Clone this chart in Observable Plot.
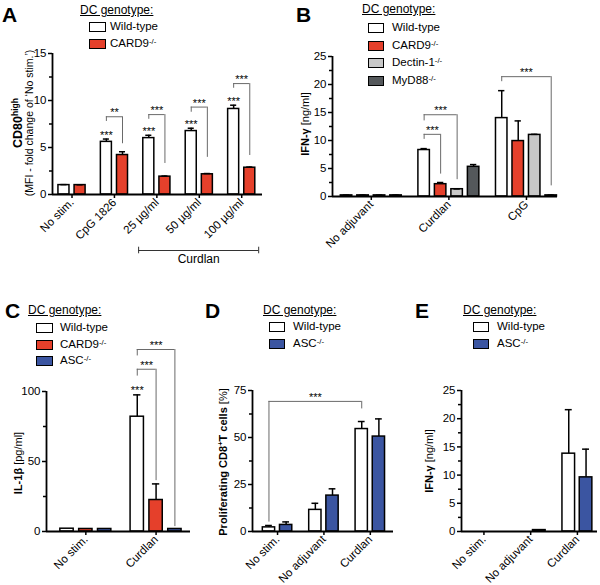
<!DOCTYPE html>
<html><head><meta charset="utf-8">
<script src="https://cdn.jsdelivr.net/npm/d3@7"></script>
<script src="https://cdn.jsdelivr.net/npm/@observablehq/plot@0.6"></script>
<style>
body{margin:0;background:#fff;font-family:"Liberation Sans",Arial,sans-serif;color:#000;}
#fig{position:relative;width:600px;height:585px;overflow:hidden;background:#fff;}
.pl{position:absolute;}
.letter{position:absolute;font-weight:bold;font-size:21px;line-height:1;}
.lgt{position:absolute;font-size:12px;text-decoration:underline;line-height:1;white-space:nowrap;transform:translateY(-50%);}
.sw{position:absolute;box-sizing:border-box;border:1.5px solid #000;transform:translateY(-50%);}
.lgi{position:absolute;font-size:11.5px;line-height:1;white-space:nowrap;transform:translateY(-50%);}
.yl{position:absolute;white-space:nowrap;transform:translate(-50%,-50%) rotate(-90deg);font-size:11px;line-height:1;}
sup{font-size:0.68em;vertical-align:0.45em;line-height:0;}
</style></head>
<body><div id="fig"></div>
<script>
// ---------- Genotypes / colours ----------
const genotypeNames = ["Wild-type", "CARD9-/-", "Dectin-1-/-", "MyD88-/-", "ASC-/-"];
const genotypeFills = ["#ffffff", "#e5402b", "#c8c8c8", "#54585b", "#3b55a1"];

// ---------- Panel A: CD80high fold change ----------
const aGroups = ["No stim.", "CpG 1826", "25 µg/ml", "50 µg/ml", "100 µg/ml"];
const aGenotypes = ["Wild-type", "CARD9-/-"];
const aWildType = [1.0, 5.6, 6.0, 6.75, 9.1];
const aWildTypeErr = [0.05, 0.3, 0.3, 0.3, 0.4];
const aCARD9 = [1.0, 4.2, 1.9, 2.15, 2.85];
const aCARD9Err = [0.03, 0.35, 0.06, 0.08, 0.07];
const aStarsWildType = ["", "***", "***", "***", "***"];
const aBrackets = [
  {fromGroup: "CpG 1826", fromGenotype: "Wild-type", toGroup: "CpG 1826", toGenotype: "CARD9-/-", top: 8.27, left: 7.77, right: 5.4, label: "**"},
  {fromGroup: "25 µg/ml", fromGenotype: "Wild-type", toGroup: "25 µg/ml", toGenotype: "CARD9-/-", top: 8.5, left: 8.0, right: 3.3, label: "***"},
  {fromGroup: "50 µg/ml", fromGenotype: "Wild-type", toGroup: "50 µg/ml", toGenotype: "CARD9-/-", top: 9.3, left: 8.75, right: 3.95, label: "***"},
  {fromGroup: "100 µg/ml", fromGenotype: "Wild-type", toGroup: "100 µg/ml", toGenotype: "CARD9-/-", top: 11.8, left: 11.3, right: 4.15, label: "***"}
];
const aSpan = {label: "Curdlan", from: "25 µg/ml", to: "100 µg/ml"};

// ---------- Panel B: IFN-γ ----------
const bGroups = ["No adjuvant", "Curdlan", "CpG"];
const bGenotypes = ["Wild-type", "CARD9-/-", "Dectin-1-/-", "MyD88-/-"];
const bWildType = [0.2, 8.3, 14.0];
const bWildTypeErr = [0.05, 0.25, 4.9];
const bCARD9 = [0.2, 2.2, 9.9];
const bCARD9Err = [0.05, 0.3, 3.6];
const bDectin1 = [0.2, 1.3, 11.0];
const bDectin1Err = [0.05, 0.05, 0.1];
const bMyD88 = [0.2, 5.3, 0.2];
const bMyD88Err = [0.05, 0.4, 0.05];
const bBrackets = [
  {fromGroup: "Curdlan", fromGenotype: "Wild-type", toGroup: "Curdlan", toGenotype: "CARD9-/-", top: 11.1, left: 10.2, right: 4.0, label: "***"},
  {fromGroup: "Curdlan", fromGenotype: "Wild-type", toGroup: "Curdlan", toGenotype: "Dectin-1-/-", top: 14.6, left: 13.5, right: 3.0, label: "***"},
  {fromGroup: "CpG", fromGenotype: "Wild-type", toGroup: "CpG", toGenotype: "MyD88-/-", top: 21.4, left: 20.5, right: 1.9, label: "***"}
];

// ---------- Panel C: IL-1β ----------
const cGroups = ["No stim.", "Curdlan"];
const cGenotypes = ["Wild-type", "CARD9-/-", "ASC-/-"];
const cWildType = [2.0, 82.0];
const cWildTypeErr = [0, 15.6];
const cCARD9 = [1.8, 22.5];
const cCARD9Err = [0, 11.5];
const cASC = [1.8, 1.8];
const cASCErr = [0, 0];
const cStarsWildType = ["", "***"];
const cBrackets = [
  {fromGroup: "Curdlan", fromGenotype: "Wild-type", toGroup: "Curdlan", toGenotype: "CARD9-/-", top: 115.9, left: 111, right: 36.3, label: "***"},
  {fromGroup: "Curdlan", fromGenotype: "Wild-type", toGroup: "Curdlan", toGenotype: "ASC-/-", top: 130, left: 125.4, right: 3.5, label: "***"}
];

// ---------- Panel D: proliferating CD8+ T cells ----------
const dGroups = ["No stim.", "No adjuvant", "Curdlan"];
const dGenotypes = ["Wild-type", "ASC-/-"];
const dWildType = [2.2, 11.5, 54.5];
const dWildTypeErr = [1.0, 3.5, 4.0];
const dASC = [3.5, 19.1, 50.5];
const dASCErr = [1.6, 3.6, 9.4];
const dBrackets = [
  {fromGroup: "No stim.", fromGenotype: "Wild-type", toGroup: "Curdlan", toGenotype: "Wild-type", top: 69.2, left: 5.0, right: 65.2, label: "***"}
];

// ---------- Panel E: IFN-γ ----------
const eGroups = ["No stim.", "No adjuvant", "Curdlan"];
const eGenotypes = ["Wild-type", "ASC-/-"];
const eWildType = [0, 0, 13.8];
const eWildTypeErr = [0, 0, 7.8];
const eASC = [0, 0.25, 9.6];
const eASCErr = [0, 0, 5.0];

// ---------- helpers ----------
const fig = document.getElementById("fig");
const fmtName = n => n.replace(/-\/-$/, "<sup>-/-</sup>");

function addDiv(cls, x, y, html, extra) {
  const d = document.createElement("div");
  d.className = cls;
  d.style.left = x + "px";
  d.style.top = y + "px";
  d.innerHTML = html;
  if (extra) Object.assign(d.style, extra);
  fig.appendChild(d);
  return d;
}

function legend(genotypes, L) {
  addDiv("lgt", L.titleX, L.titleY, "DC genotype:");
  genotypes.forEach((g, i) => {
    const y = L.rowY + i * L.rowStep;
    addDiv("sw", L.swX, y, "", {width: L.swW + "px", height: L.swH + "px", background: genotypeFills[genotypeNames.indexOf(g)]});
    addDiv("lgi", L.textX, y, fmtName(g));
  });
}

function panel(P) {
  const {groups, genotypes, means, errs, stars, brackets, L} = P;
  const K = genotypes.length;
  const xc = (g, k) => g + (k - (K - 1) / 2) * L.spacing;
  const rows = [];
  groups.forEach((grp, i) => genotypes.forEach((gt, k) => {
    rows.push({group: grp, genotype: gt, i, k, v: means[k][i], e: errs[k][i],
      star: stars && k === 0 ? stars[i] : "", c: xc(i, k)});
  }));
  const w = L.barW, cw = L.barW * 0.55;
  const bars = rows.filter(d => d.v > 0);
  const errRows = rows.filter(d => d.e > 0);
  const br = (brackets || []).map(b => ({...b,
    xa: xc(groups.indexOf(b.fromGroup), genotypes.indexOf(b.fromGenotype)),
    xb: xc(groups.indexOf(b.toGroup), genotypes.indexOf(b.toGenotype))}));
  const marks = [
    Plot.rect(bars, {x1: d => d.c - w / 2, x2: d => d.c + w / 2, y1: 0, y2: "v", fill: "genotype", stroke: "#000", strokeWidth: 1.5}),
    Plot.ruleX(errRows, {x: "c", y1: "v", y2: d => d.v + d.e, stroke: "#000", strokeWidth: 1.5}),
    Plot.ruleY(errRows, {y: d => d.v + d.e, x1: d => d.c - cw / 2, x2: d => d.c + cw / 2, stroke: "#000", strokeWidth: 1.5}),
    Plot.text(rows.filter(d => d.star), {x: "c", y: d => d.v + d.e, text: "star", dy: -4, fontSize: 11}),
    Plot.ruleY(br, {y: "top", x1: "xa", x2: "xb", stroke: "#6a6a6a", strokeWidth: 1}),
    Plot.ruleX(br, {x: "xa", y1: "left", y2: "top", stroke: "#6a6a6a", strokeWidth: 1}),
    Plot.ruleX(br, {x: "xb", y1: "right", y2: "top", stroke: "#6a6a6a", strokeWidth: 1}),
    Plot.text(br, {x: d => (d.xa + d.xb) / 2, y: "top", text: "label", dy: -4, fontSize: 11}),
    Plot.ruleY([0], {stroke: "#000", strokeWidth: 1.8}),
    Plot.ruleX([L.xDomain[0]], {y1: 0, y2: L.yMax, stroke: "#000", strokeWidth: 1.8}),
    Plot.axisY({ticks: L.major, tickSize: 4, tickPadding: 2, strokeWidth: 1.5, fontSize: 11.5, fill: "#000", label: null}),
    Plot.axisY({ticks: L.minor, tickSize: 3, tickFormat: () => "", strokeWidth: 1.5, label: null}),
    Plot.axisX({ticks: groups.map((_, i) => i), tickFormat: i => groups[i], tickRotate: -45, tickSize: 4, tickPadding: 2, strokeWidth: 1.5, fontSize: 11.5, label: null})
  ];
  if (P.extra) marks.push(...P.extra(xc));
  const svg = Plot.plot({
    width: L.width, height: L.height,
    marginLeft: L.mL, marginRight: L.mR, marginTop: L.mT, marginBottom: L.mB,
    x: {type: "linear", domain: L.xDomain},
    y: {domain: [0, L.yMax]},
    color: {domain: genotypeNames, range: genotypeFills},
    style: {fontFamily: "Liberation Sans, Arial, sans-serif", fontSize: "11px", color: "#000", background: "transparent", overflow: "visible"},
    marks
  });
  const holder = addDiv("pl", L.left, L.top, "");
  holder.appendChild(svg);
}

// ---------- Panel A ----------
panel({
  groups: aGroups, genotypes: aGenotypes,
  means: [aWildType, aCARD9], errs: [aWildTypeErr, aCARD9Err],
  stars: aStarsWildType, brackets: aBrackets,
  L: {left: 0, top: 0, width: 300, height: 290, mL: 52, mR: 38, mT: 53, mB: 96,
      xDomain: [-0.46, 4.49], yMax: 15, major: [0, 5, 10, 15], minor: [2.5, 7.5, 12.5], barW: 0.26, spacing: 0.38},
  extra: () => {
    const x1 = aGroups.indexOf(aSpan.from) - 0.43, x2 = aGroups.indexOf(aSpan.to) + 0.4;
    return [
      Plot.ruleY([aSpan], {y: 0, x1: () => x1, x2: () => x2, dy: 56, stroke: "#333", strokeWidth: 1}),
      Plot.ruleX([x1, x2], {x: d => d, y1: 0.35, y2: -0.35, dy: 56, stroke: "#333", strokeWidth: 1}),
      Plot.text([aSpan], {x: () => (x1 + x2) / 2, y: 0, dy: 65, text: "label", fontSize: 12})
    ];
  }
});
addDiv("letter", 2, 4, "A");
legend(aGenotypes, {titleX: 80, titleY: 10, swX: 89, swW: 17, swH: 10, rowY: 27, rowStep: 17, textX: 110});
addDiv("yl", 18, 123, "<b style='font-size:12.5px'>CD80<sup>high</sup></b>");
addDiv("yl", 29, 123, "(MFI - fold change of ‘No stim.’)", {fontSize: "10.5px"});

// ---------- Panel B ----------
panel({
  groups: bGroups, genotypes: bGenotypes,
  means: [bWildType, bCARD9, bDectin1, bMyD88], errs: [bWildTypeErr, bCARD9Err, bDectin1Err, bMyD88Err],
  brackets: bBrackets,
  L: {left: 300, top: 0, width: 300, height: 290, mL: 32, mR: 43, mT: 56, mB: 94,
      xDomain: [-0.5, 2.4], yMax: 25, major: [0, 5, 10, 15, 20, 25], minor: [2.5, 7.5, 12.5, 17.5, 22.5], barW: 0.148, spacing: 0.2126}
});
addDiv("letter", 296, 4, "B");
legend(bGenotypes, {titleX: 362, titleY: 9, swX: 368, swW: 16, swH: 10, rowY: 28, rowStep: 17.6, textX: 392});
addDiv("yl", 305, 124, "<b>IFN-γ</b> [ng/ml]");

// ---------- Panel C ----------
panel({
  groups: cGroups, genotypes: cGenotypes,
  means: [cWildType, cCARD9, cASC], errs: [cWildTypeErr, cCARD9Err, cASCErr],
  stars: cStarsWildType, brackets: cBrackets,
  L: {left: 0, top: 300, width: 200, height: 285, mL: 46, mR: 10, mT: 91, mB: 54,
      xDomain: [-0.56, 1.49], yMax: 100, major: [0, 50, 100], minor: [25, 75], barW: 0.19, spacing: 0.268}
});
addDiv("letter", 5, 300, "C");
legend(cGenotypes, {titleX: 28, titleY: 310, swX: 36, swW: 17, swH: 10, rowY: 328, rowStep: 16.5, textX: 60});
addDiv("yl", 18, 463, "<b>IL-1β</b> [pg/ml]");

// ---------- Panel D ----------
panel({
  groups: dGroups, genotypes: dGenotypes,
  means: [dWildType, dASC], errs: [dWildTypeErr, dASCErr],
  brackets: dBrackets,
  L: {left: 200, top: 300, width: 200, height: 285, mL: 52, mR: 7, mT: 90, mB: 54,
      xDomain: [-0.54, 2.5], yMax: 75, major: [0, 25, 50, 75], minor: [12.5, 37.5, 62.5], barW: 0.265, spacing: 0.37}
});
addDiv("letter", 205, 300, "D");
legend(dGenotypes, {titleX: 263, titleY: 310, swX: 269, swW: 16, swH: 10, rowY: 327, rowStep: 16.6, textX: 293});
addDiv("yl", 223, 462, "<b>Proliferating CD8<sup>+</sup>T cells</b> [%]");

// ---------- Panel E ----------
panel({
  groups: eGroups, genotypes: eGenotypes,
  means: [eWildType, eASC], errs: [eWildTypeErr, eASCErr],
  L: {left: 400, top: 300, width: 200, height: 285, mL: 61, mR: 3, mT: 90, mB: 54,
      xDomain: [-0.48, 2.43], yMax: 25, major: [0, 5, 10, 15, 20, 25], minor: [2.5, 7.5, 12.5, 17.5, 22.5], barW: 0.27, spacing: 0.37}
});
addDiv("letter", 415, 300, "E");
legend(eGenotypes, {titleX: 463, titleY: 310, swX: 473, swW: 16, swH: 10, rowY: 327, rowStep: 16.6, textX: 497});
addDiv("yl", 429, 461, "<b>IFN-γ</b> [ng/ml]");
</script>
</body></html>
